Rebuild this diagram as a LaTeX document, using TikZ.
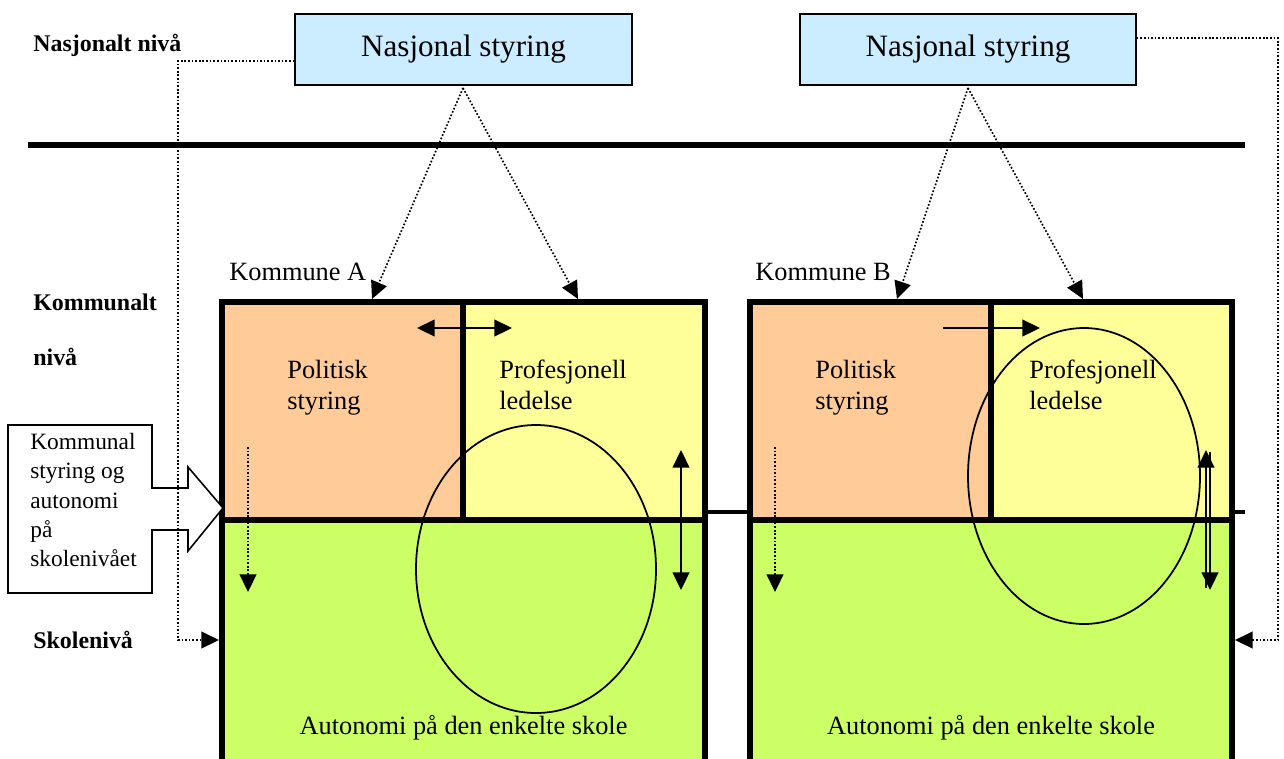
\documentclass[tikz,border=0pt]{standalone}
\usepackage{fontspec}
\setmainfont{Liberation Serif}
\usetikzlibrary{arrows.meta,fit}
\definecolor{natblue}{HTML}{CCECFF}
\definecolor{polorange}{HTML}{FFCC99}
\definecolor{profyellow}{HTML}{FFFF99}
\definecolor{schoolgreen}{HTML}{CCFF66}
\begin{document}
\begin{tikzpicture}[x=0.02cm,y=-0.02cm,
  levellabel/.style={font=\fontsize{13.6}{16}\selectfont\bfseries, anchor=west, inner sep=0pt},
  bodytext/.style={font=\fontsize{15}{17.6}\selectfont, inner sep=0pt},
  natbox/.style={draw, line width=0.9pt, fill=natblue, inner sep=0pt,
    font=\fontsize{17.7}{20}\selectfont},
  region/.style={inner sep=0pt, draw=none},
  heavy/.style={line width=3.3pt},
  tip/.style={-{Triangle[length=10pt,width=9.5pt]}},
  tips/.style={{Triangle[length=10pt,width=9.5pt]}-{Triangle[length=10pt,width=9.5pt]}},
  flow/.style={line width=1pt},
  dots/.style={line width=0.95pt, dash pattern=on 0.95pt off 1.1pt},
  loop/.style={line width=1pt}]
\useasboundingbox (0,0) rectangle (1284,758);
\clip (0,0) rectangle (1284,758);

% level rules
\draw[heavy] (28,145) -- (1245,145);
\draw[line width=2.6pt] (222,512) -- (1245,512);

% level labels
\node[levellabel] (lnat) at (33,45) {Nasjonalt nivå};
\node[levellabel] (lkom1) at (33,302) {Kommunalt};
\node[levellabel] (lkom2) at (33,357) {nivå};
\node[levellabel] (lsko) at (33,640) {Skolenivå};

% national steering boxes
\node[natbox, fit={(295,14) (632,85)}] (natA) {};
\node[font=\fontsize{17.7}{20}\selectfont, inner sep=0pt] at (natA.center) {Nasjonal styring};
\node[natbox, fit={(800,14) (1136,85)}] (natB) {};
\node[font=\fontsize{17.7}{20}\selectfont, inner sep=0pt] at (natB.center) {Nasjonal styring};

% municipality A regions
\node[region, fill=polorange, fit={(222,302) (463,520)}] (polA) {};
\node[region, fill=profyellow, fit={(463,302) (705,520)}] (profA) {};
\node[region, fill=schoolgreen, fit={(222,520) (705,770)}] (autoA) {};
% municipality B regions
\node[region, fill=polorange, fit={(750,302) (991,520)}] (polB) {};
\node[region, fill=profyellow, fit={(991,302) (1232,520)}] (profB) {};
\node[region, fill=schoolgreen, fit={(750,520) (1232,770)}] (autoB) {};

% ellipses
\draw[loop] (536,569) ellipse [x radius=120, y radius=144];
\draw[loop] (1084,476) ellipse [x radius=116, y radius=148];

% heavy frames
\draw[heavy] (polA.north west) rectangle (autoA.south east);
\draw[heavy] (polA.north east) -- (polA.south east);
\draw[heavy] (polA.south west) -- (profA.south east);
\draw[heavy] (polB.north west) rectangle (autoB.south east);
\draw[heavy] (polB.north east) -- (polB.south east);
\draw[heavy] (polB.south west) -- (profB.south east);

% titles and texts
\node[bodytext, anchor=west] (kA) at (229,272) {Kommune A};
\node[bodytext, anchor=west] (kB) at (755,272) {Kommune B};
\node[bodytext, anchor=north west, align=left] (tpA) at (287,360) {Politisk\\styring};
\node[bodytext, anchor=north west, align=left] (tlA) at (499,360) {Profesjonell\\ledelse};
\node[bodytext, anchor=north west, align=left] (tpB) at (815,360) {Politisk\\styring};
\node[bodytext, anchor=north west, align=left] (tlB) at (1029,360) {Profesjonell\\ledelse};
\node[bodytext] (taA) at (463.5,728) {Autonomi på den enkelte skole};
\node[bodytext] (taB) at (991,728) {Autonomi på den enkelte skole};

% callout
\draw[line width=0.9pt, fill=white] (8,425) -- (152,425) -- (152,488) -- (188,488) -- (188,467)
  -- (223,508) -- (188,551) -- (188,530) -- (152,530) -- (152,593) -- (8,593) -- cycle;
\node[font=\fontsize{13.3}{16.7}\selectfont, inner sep=0pt, anchor=north west, align=left]
  (call) at (30,433) {Kommunal\\styring og\\autonomi\\på\\skolenivået};

% coordinates for connectors
\coordinate (srcA) at (463,88);
\coordinate (srcB) at (968,88);
\coordinate (hitPolA) at (372,299);
\coordinate (hitProfA) at (578,299);
\coordinate (hitPolB) at (897,299);
\coordinate (hitProfB) at (1083,299);
\coordinate (cornL1) at (178,61);
\coordinate (cornL2) at (178,640);
\coordinate (hitSchA) at (219,640);
\coordinate (cornR1) at (1278,38);
\coordinate (cornR2) at (1278,640);
\coordinate (hitSchB) at (1235,640);

% national to municipal
\draw[dots, tip] (srcA) -- (hitPolA);
\draw[dots, tip] (srcA) -- (hitProfA);
\draw[dots, tip] (srcB) -- (hitPolB);
\draw[dots, tip] (srcB) -- (hitProfB);
% national to school
\draw[dots, tip] (natA.west |- cornL1) -- (cornL1) -- (cornL2) -- (hitSchA);
\draw[dots, tip] (natB.east |- cornR1) -- (cornR1) -- (cornR2) -- (hitSchB);

% political to school (dotted)
\coordinate (dA1) at (248,447); \coordinate (dA2) at (248,592);
\coordinate (dB1) at (775,447); \coordinate (dB2) at (775,592);
\draw[dots, tip] (dA1) -- (dA2);
\draw[dots, tip] (dB1) -- (dB2);

% interplay arrows
\coordinate (hA1) at (417,328); \coordinate (hA2) at (512,328);
\coordinate (hB1) at (943,328); \coordinate (hB2) at (1040,328);
\draw[flow, tips] (hA1) -- (hA2);
\draw[flow, tip] (hB1) -- (hB2);
\coordinate (vA1) at (681,450); \coordinate (vA2) at (681,590);
\draw[flow, tips] (vA1) -- (vA2);
\coordinate (vB1) at (1206,588); \coordinate (vB2) at (1206,450);
\coordinate (vB3) at (1210,452); \coordinate (vB4) at (1210,590);
\draw[flow, tip] (vB1) -- (vB2);
\draw[flow, tip] (vB3) -- (vB4);
\end{tikzpicture}
\end{document}
